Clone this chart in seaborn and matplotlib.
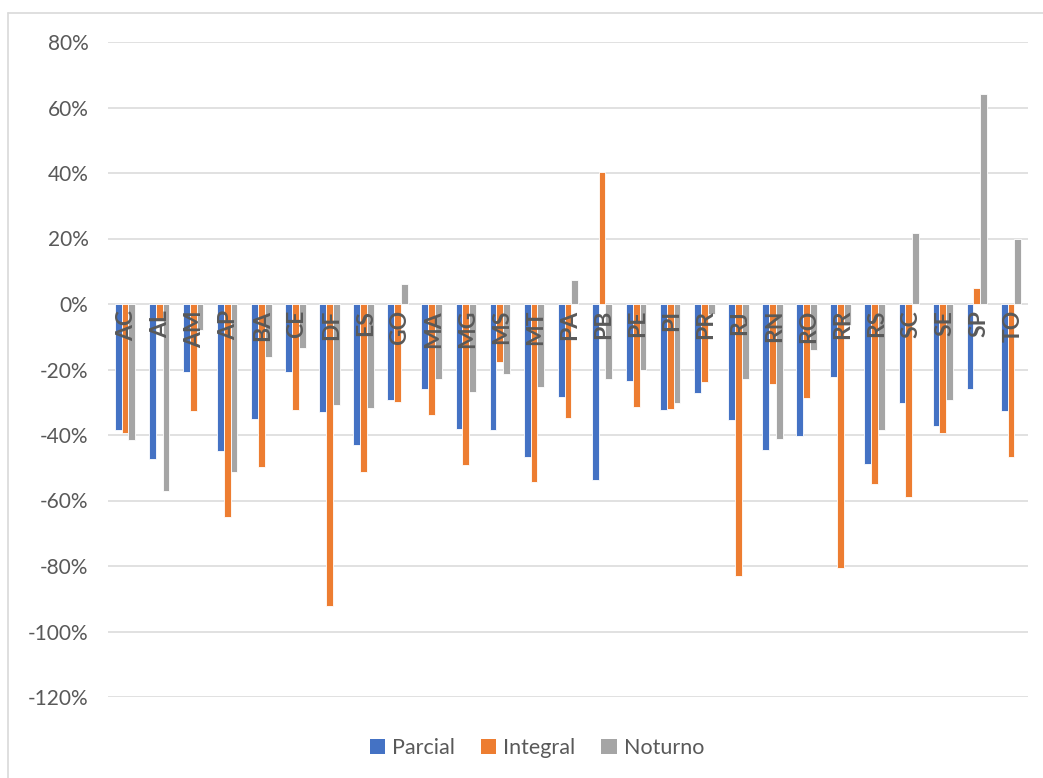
import matplotlib
matplotlib.use("Agg")
import matplotlib.pyplot as plt
from matplotlib.lines import Line2D
from matplotlib.patches import Patch
import seaborn as sns
import pandas as pd

states = ["AC", "AL", "AM", "AP", "BA", "CE", "DF", "ES", "GO", "MA", "MG", "MS", "MT", "PA",
          "PB", "PE", "PI", "PR", "RJ", "RN", "RO", "RR", "RS", "SC", "SE", "SP", "TO"]
parcial = [-38.4, -47.2, -20.9, -44.8, -35.0, -20.9, -33.1, -43.2, -29.2, -25.9, -38.3, -38.5, -46.6, -28.4,
           -53.7, -23.4, -32.4, -27.1, -35.3, -44.5, -40.3, -22.3, -48.8, -30.1, -37.4, -26.0, -32.7]
integral = [-39.3, -5.0, -32.8, -65.1, -49.8, -32.4, -92.3, -51.2, -29.9, -34.0, -49.3, -17.6, -54.3, -34.7,
            40.2, -31.6, -32.1, -23.8, -83.0, -24.3, -28.6, -80.6, -55.1, -58.9, -39.3, 4.8, -46.8]
noturno = [-41.6, -57.1, -8.0, -51.4, -16.1, -13.4, -30.8, -31.9, 6.1, -22.8, -27.0, -21.4, -25.4, 7.3,
           -23.0, -20.0, -30.3, -3.0, -22.8, -41.2, -14.1, -6.4, -38.4, 21.8, -29.3, 64.2, 20.0]
series = ["Parcial", "Integral", "Noturno"]
colors = ["#4472C4", "#ED7D31", "#A5A5A5"]
y_ticks = [80, 60, 40, 20, 0, -20, -40, -60, -80, -100, -120]

df = pd.DataFrame({
    "UF": states * 3,
    "Variação": parcial + integral + noturno,
    "Turno": [s for s in series for _ in states],
})

sns.set_style("white")
plt.rcParams["font.family"] = ["Lato", "DejaVu Sans"]
text_color = "#595959"

fig = plt.figure(figsize=(10.43, 7.78), dpi=100)
ax = fig.add_axes([108 / 1043, 1 - 697 / 778, 920 / 1043, 655 / 778])

sns.barplot(data=df, x="UF", y="Variação", hue="Turno", hue_order=series, order=states,
            palette=colors, width=0.6, edgecolor="white", linewidth=0.6,
            saturation=1, legend=False, ax=ax)

ax.set_ylim(-120, 80)
ax.set_xlim(-0.5, len(states) - 0.5)
ax.set_yticks(y_ticks)
ax.set_yticklabels([f"{t}%" for t in y_ticks], fontsize=15, color=text_color)
ax.tick_params(axis="y", length=0, pad=14)
ax.set_xticks([])
ax.set_xlabel("")
ax.set_ylabel("")
ax.grid(axis="y", color="#D9D9D9", linewidth=1.1)
ax.set_axisbelow(True)
for s in ax.spines.values():
    s.set_visible(False)

# category names sit just under the zero line, rotated
for i, st in enumerate(states):
    ax.text(i + 0.05, -1.8, st, rotation=90, ha="center", va="top", fontsize=16.5,
            fontweight="bold", color=text_color, zorder=5)

handles = [Patch(facecolor=c, edgecolor="none") for c in colors]
fig.legend(handles, series, loc="center", bbox_to_anchor=(537 / 1043, 1 - 748 / 778),
           ncol=3, frameon=False, fontsize=15.5, handlelength=0.7, handleheight=0.7,
           columnspacing=1.2, handletextpad=0.35, labelcolor=text_color)

# chart frame
fig.add_artist(Line2D([8 / 1043, 8 / 1043], [0, 1 - 13 / 778], transform=fig.transFigure,
                      color="#D9D9D9", linewidth=1.2))
fig.add_artist(Line2D([8 / 1043, 1], [1 - 13 / 778, 1 - 13 / 778], transform=fig.transFigure,
                      color="#D9D9D9", linewidth=1.2))

fig.savefig("out.png", dpi=100, facecolor="white")
